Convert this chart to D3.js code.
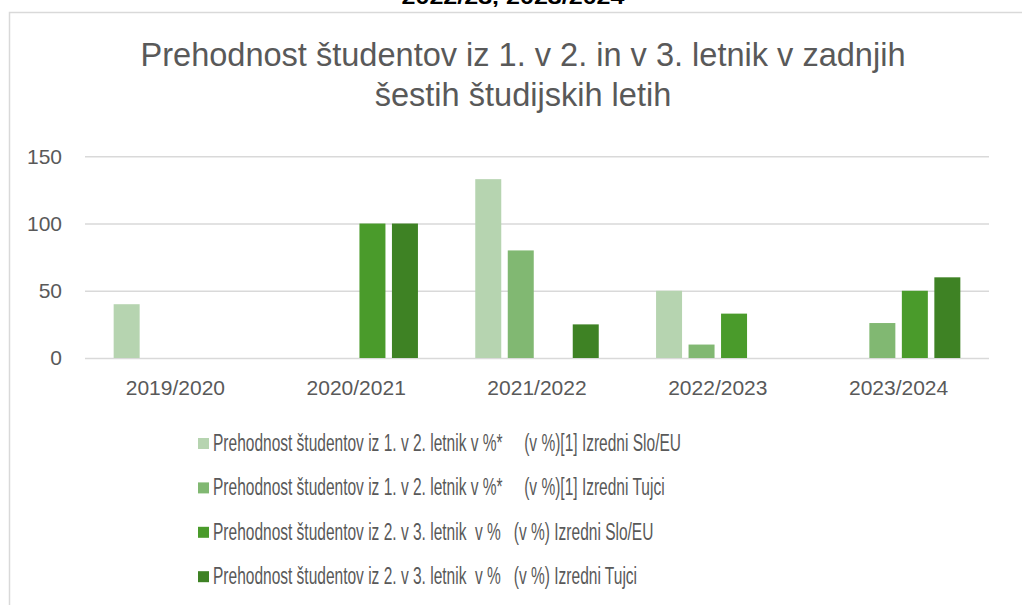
<!DOCTYPE html>
<html>
<head>
<meta charset="utf-8">
<script src="https://cdn.jsdelivr.net/npm/d3@7"></script>
<style>
  body { margin: 0; background: #fff; }
  text { fill: #595959; }
</style>
</head>
<body>
<div id="chart"></div>
<script>
// data
var categories = ["2019/2020", "2020/2021", "2021/2022", "2022/2023", "2023/2024"];
var seriesNames = [
  "Prehodnost študentov iz 1. v 2. letnik v %*     (v %)[1] Izredni Slo/EU",
  "Prehodnost študentov iz 1. v 2. letnik v %*     (v %)[1] Izredni Tujci",
  "Prehodnost študentov iz 2. v 3. letnik  v %   (v %) Izredni Slo/EU",
  "Prehodnost študentov iz 2. v 3. letnik  v %   (v %) Izredni Tujci"
];
var slo12 = [40, null, 133, 50, null];
var tuj12 = [null, null, 80, 10, 26];
var slo23 = [null, 100, null, 33, 50];
var tuj23 = [null, 100, 25, null, 60];
var yTicks = [0, 50, 100, 150];
var colors = ["#b6d4b0", "#81b872", "#4a9b2b", "#3e8224"];

var allSeries = [slo12, tuj12, slo23, tuj23];

var width = 1022, height = 605;
var svg = d3.select("#chart").append("svg")
  .attr("width", width)
  .attr("height", height)
  .style("font-family", "'Liberation Sans', Arial, sans-serif");

// clipped heading of the page above the chart
svg.append("text")
  .attr("x", 513).attr("y", 4)
  .attr("text-anchor", "middle")
  .style("font-weight", "bold")
  .style("font-size", "20px")
  .style("fill", "#000")
  .attr("textLength", 223)
  .attr("lengthAdjust", "spacingAndGlyphs")
  .text("2022/23, 2023/2024");

// chart frame
svg.append("rect")
  .attr("x", 9.5).attr("y", 12.5)
  .attr("width", 1100).attr("height", 700)
  .attr("fill", "#fff")
  .attr("stroke", "#d9d9d9")
  .attr("stroke-width", 1.5);

// title
var narrow = "'Liberation Sans Narrow', 'Liberation Sans', Arial, sans-serif";
var titleLines = ["Prehodnost študentov iz 1. v 2. in v 3. letnik v zadnjih", "šestih študijskih letih"];
var title = svg.selectAll(".title")
  .data(titleLines)
  .enter().append("text")
  .attr("class", "title")
  .attr("x", 523)
  .attr("y", function(d, i) { return 66 + i * 40; })
  .attr("text-anchor", "middle")
  .style("font-family", narrow)
  .style("font-size", "33px")
  .text(function(d) { return d; });
var tk = 765 / title.nodes()[0].getComputedTextLength();
title.each(function() {
  var w = this.getComputedTextLength();
  d3.select(this).attr("textLength", w * tk).attr("lengthAdjust", "spacingAndGlyphs");
});

// scales
var x0 = d3.scaleBand()
  .domain(categories)
  .range([85, 989])
  .paddingInner(0.317)
  .paddingOuter(0.1585);

var x1 = d3.scaleBand()
  .domain(d3.range(allSeries.length))
  .range([0, x0.bandwidth()])
  .paddingInner(0.2)
  .paddingOuter(0);

var y = d3.scaleLinear()
  .domain([0, 150])
  .range([358, 156.3]);

// gridlines
var yAxis = svg.append("g")
  .attr("transform", "translate(85,0)")
  .call(d3.axisLeft(y).tickValues(yTicks).tickSize(-904).tickPadding(23));
yAxis.select(".domain").remove();
yAxis.selectAll("line").attr("stroke", "#d9d9d9").attr("stroke-width", 1.5);
yAxis.selectAll("text")
  .style("font-size", "21px")
  .style("font-family", "'Liberation Sans', Arial, sans-serif")
  .attr("fill", "#595959");

// bars
allSeries.forEach(function(vals, si) {
  svg.append("g").selectAll("rect")
    .data(vals.map(function(v, i) { return {cat: categories[i], v: v}; })
      .filter(function(d) { return d.v != null; }))
    .enter().append("rect")
    .attr("x", function(d) { return x0(d.cat) + x1(si); })
    .attr("width", x1.bandwidth())
    .attr("y", function(d) { return y(d.v); })
    .attr("height", function(d) { return y(0) - y(d.v); })
    .attr("fill", colors[si]);
});

// category axis
var xAxis = svg.append("g")
  .attr("transform", "translate(0,358)")
  .call(d3.axisBottom(x0).tickSize(0).tickPadding(22));
xAxis.select(".domain").remove();
xAxis.selectAll("text")
  .style("font-size", "21px")
  .style("font-family", "'Liberation Sans', Arial, sans-serif")
  .attr("fill", "#595959");

// legend
var legend = svg.append("g").selectAll("g")
  .data(seriesNames)
  .enter().append("g")
  .attr("transform", function(d, i) { return "translate(198," + (450 + i * 44.4) + ")"; });

legend.append("rect")
  .attr("x", 0).attr("y", -12)
  .attr("width", 11).attr("height", 11)
  .attr("fill", function(d, i) { return colors[i]; });

var ltext = legend.append("text")
  .attr("x", 15).attr("y", 1)
  .style("font-family", narrow)
  .style("font-size", "23px")
  .style("white-space", "pre")
  .text(function(d) { return d; });
var lk = 468 / ltext.nodes()[0].getComputedTextLength();
ltext.each(function() {
  var w = this.getComputedTextLength();
  d3.select(this).attr("textLength", w * lk).attr("lengthAdjust", "spacingAndGlyphs");
});
</script>
</body>
</html>
